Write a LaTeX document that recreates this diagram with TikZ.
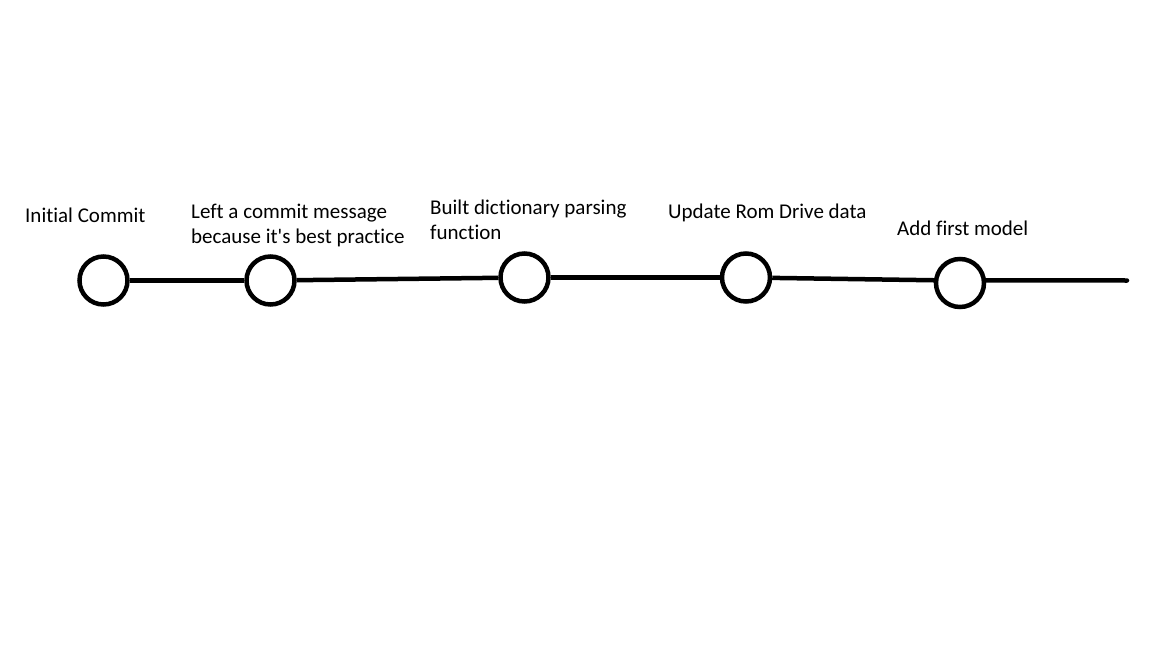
\documentclass[tikz,border=0pt]{standalone}
\usepackage{fontspec}
\setmainfont{Carlito}[Ligatures={TeXOff,CommonOff}]
\begin{document}
\begin{tikzpicture}[x=1pt,y=-1pt,
  commit/.style={circle,draw=black,line width=4.5pt,minimum size=48pt,inner sep=0pt},
  link/.style={draw=black,line width=4.5pt},
  lbl/.style={anchor=base west,inner sep=0pt,align=left,font=\fontsize{21}{25}\selectfont}]
\useasboundingbox[fill=white] (0,0) rectangle (1152,648);
\node[commit] (c1) at (103.5,280.5) {};
\node[commit] (c2) at (270.5,280.5) {};
\node[commit] (c3) at (524.5,277.5) {};
\node[commit] (c4) at (746,277.5) {};
\node[commit] (c5) at (960,283) {};
\coordinate (tail) at (1127,280.5);
\draw[link] (c1) -- (c2);
\draw[link] (c2) -- (c3);
\draw[link] (c3) -- (c4);
\draw[link] (c4) -- (c5.174);
\draw[link,line cap=round] (c5.6) -- (tail);
\node[lbl] (t1) at (25,222) {Initial Commit};
\node[lbl] (t2) at (191,243) {Left a commit message\\because it's best practice};
\node[lbl] (t3) at (430,239) {Built dictionary parsing\\function};
\node[lbl] (t4) at (668,218) {Update Rom Drive data};
\node[lbl] (t5) at (897,235) {Add first model};
\end{tikzpicture}
\end{document}
